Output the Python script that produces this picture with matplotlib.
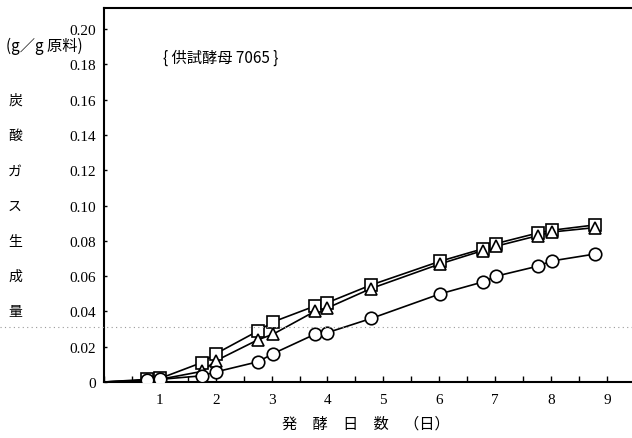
import matplotlib
matplotlib.use('Agg')
import matplotlib.pyplot as plt
from matplotlib.lines import Line2D
from matplotlib.ticker import MultipleLocator
import matplotlib.transforms as mtransforms

plt.rcParams['font.family'] = ['Liberation Serif', 'Noto Sans CJK JP']
jp = ['Noto Sans CJK JP', 'DejaVu Sans']

# fermentation days at which samples were taken
days = [0.77, 1.0, 1.75, 2.0, 2.76, 3.02, 3.77, 4.0, 4.78, 6.02, 6.78, 7.02, 7.77, 8.01, 8.78]
# CO2 produced (g/g raw material)
co2_square = [0.0015, 0.002, 0.011, 0.016, 0.029, 0.034, 0.043, 0.045, 0.055,
              0.0685, 0.0755, 0.0785, 0.0845, 0.086, 0.089]
co2_triangle = [0.001, 0.0015, 0.006, 0.012, 0.024, 0.027, 0.040, 0.042, 0.053,
                0.067, 0.0745, 0.077, 0.083, 0.085, 0.0875]
co2_circle = [0.001, 0.0015, 0.0035, 0.0057, 0.0115, 0.016, 0.027, 0.028, 0.036,
              0.050, 0.0567, 0.060, 0.0657, 0.0686, 0.0725]

ylabel_chars = ['炭', '酸', 'ガ', 'ス', '生', '成', '量']
ylabel_levels = [0.16, 0.14, 0.12, 0.10, 0.08, 0.06, 0.04]

fig = plt.figure(figsize=(6.32, 4.39), dpi=100)
ax = fig.add_axes([104 / 632, 56 / 439, 528 / 632, 374 / 439])

for vals, mk, ms in [(co2_square, 's', 8), (co2_triangle, '^', 8), (co2_circle, 'o', 9)]:
    ax.plot([0] + days, [0] + vals, color='black', lw=1.2, zorder=2)
    ax.plot(days, vals, linestyle='none', marker=mk, ms=ms, mfc='white',
            mec='black', mew=1.2, zorder=3)

ax.set_xlim(0, 9.45)
ax.set_ylim(0, 0.212)
ax.xaxis.set_minor_locator(MultipleLocator(0.5))
ax.set_xticks(range(1, 10))
ax.set_yticks([0.02 * i for i in range(11)])
ax.set_yticklabels(['0'] + ['%.2f' % (0.02 * i) for i in range(1, 11)])
ax.tick_params(axis='both', which='both', direction='in', length=4, width=1,
               labelsize=11)
ax.tick_params(axis='x', pad=8)
ax.tick_params(axis='y', pad=6, length=2)
ax.spines['right'].set_visible(False)
for s in ['left', 'top', 'bottom']:
    ax.spines[s].set_linewidth(1.5)

ax.text((163 - 104) / 528, 1 - 49 / 374, '{ 供試酵母 7065 }', transform=ax.transAxes,
        fontsize=11, family=jp, va='center', ha='left')

# vertical axis title, one character per row
trans = mtransforms.blended_transform_factory(fig.transFigure, ax.transData)
for ch, lv in zip(ylabel_chars, ylabel_levels):
    fig.text(15 / 632, lv, ch, transform=trans, fontsize=10, family=jp,
             ha='center', va='center')
fig.text(6 / 632, 1 - 46 / 439, '(g／g 原料)', fontsize=11, family=jp,
         ha='left', va='center')

fig.text(366 / 632, 1 - 424 / 439, '発　酵　日　数　（日）', fontsize=11, family=jp,
         ha='center', va='center')

# faint dotted rule across the sheet
fig.add_artist(Line2D([0, 1], [1 - 328 / 439] * 2, transform=fig.transFigure,
                      color='#999999', lw=0.8, ls=(0, (1, 3)), zorder=1))

fig.savefig('out.png', dpi=100)
